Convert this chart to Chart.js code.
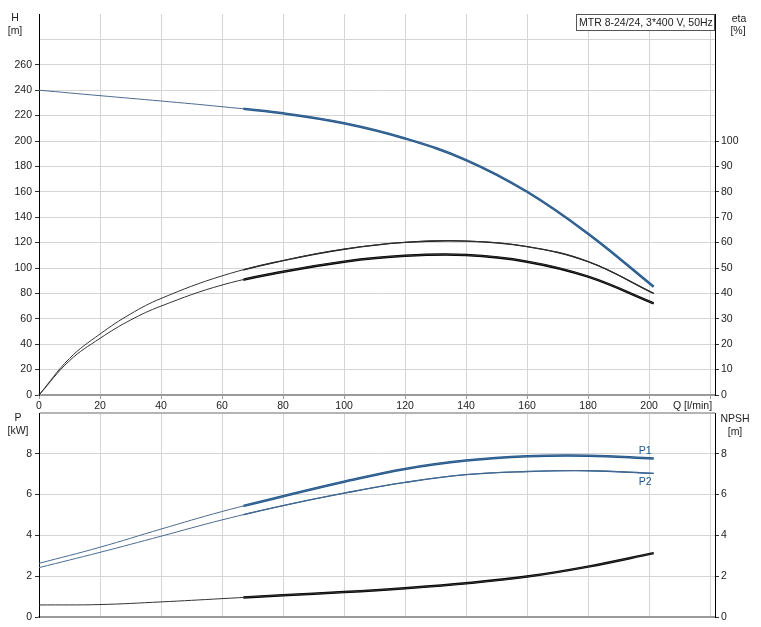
<!DOCTYPE html>
<html><head><meta charset="utf-8">
<script src="https://cdn.jsdelivr.net/npm/chart.js@4.4.1/dist/chart.umd.min.js"></script>
<style>
html,body{margin:0;padding:0;background:#fff;}
#wrap{position:relative;width:761px;height:627px;overflow:hidden;background:#fff;}
canvas{position:absolute;left:0;}
#c1{top:0;} #c2{top:412px;}
</style></head><body>
<div id="wrap"><canvas id="c1" width="761" height="412"></canvas><canvas id="c2" width="761" height="215"></canvas></div>
<script>
// ---- data ----
const title = 'MTR 8-24/24, 3*400 V, 50Hz';
const qTickValues = [0,20,40,60,80,100,120,140,160,180,200,220];
const hTickValues = [0,20,40,60,80,100,120,140,160,180,200,220,240,260];
const etaTickValues = [0,10,20,30,40,50,60,70,80,90,100];
const pTickValues = [0,2,4,6,8];
const qStartThick = 67;   // start of the bold (operating) part of each curve
const qMax = 221.6;

const qMain = [0,20,40,60,80,100,120,140,160,180,201.5];
const head  = [240,235.7,231.5,227,221.8,214,202,185,160,127,85.3];
const p1    = [2.63,3.42,4.31,5.17,5.92,6.63,7.26,7.67,7.88,7.91,7.77];
const p2    = [2.42,3.17,3.96,4.76,5.46,6.07,6.6,6.98,7.13,7.17,7.04];
const npsh  = [0.59,0.61,0.74,0.9,1.07,1.22,1.41,1.65,1.98,2.47,3.13];

const qEta  = [0,10,20,30,40,60,80,100,120,140,160,180,201.5];
const etaPump  = [0,14.4,24,31.9,38,46.9,52.9,57.4,60.1,60.6,58.4,52.5,40];
const etaTotal = [0,13.5,22.3,29.5,35,43.3,48.5,52.5,54.8,55.1,52.5,46.6,36.1];

// ---- helpers ----
const PLOT_W = 676;
const clipThick = -(qStartThick / qMax * PLOT_W);
const pts = (xs, ys) => xs.map((x,i)=>({x:x,y:ys[i]}));
const BLUE='#1b5790', BLUE_THIN='#4a6b90', BLACK='#000', GRID='#d4d4d4';
const FONT = "'Liberation Sans', Arial, sans-serif";
const FSIZE = 10.5;
Chart.defaults.font.family = FONT;
Chart.defaults.font.size = FSIZE;
Chart.defaults.color = '#222';

function ds(data, color, width, axis, bold){
  const d = {data:data, borderColor:color, borderWidth:width, pointRadius:0, fill:false,
          showLine:true, tension:0.4, yAxisID:axis, xAxisID:'x'};
  if (bold) d.clip = {left:clipThick, top:0, right:0, bottom:0};
  return d;
}
function fixW(w){ return s=>{ s.width=w; s.paddingTop=0; s.paddingBottom=0; }; }
function fixH(h){ return s=>{ s.height=h; s.paddingLeft=0; s.paddingRight=0; }; }
function setTicks(vals){ return s=>{ s.ticks = vals.map(v=>({value:v})); }; }

const xScale = (showLabels, h) => ({
  type:'linear', min:0, max:qMax,
  afterBuildTicks:setTicks(qTickValues),
  afterFit:fixH(h),
  border:{color:'#9a9a9a', width:2},
  grid:{color:GRID, lineWidth:1, drawTicks:showLabels, tickLength:4, tickColor:'#999'},
  ticks:{display:showLabels, padding:1, maxRotation:0, autoSkip:false,
         callback:v=> v>200 ? '' : String(v)}
});

const textPlugin = (items, boxTitle) => ({
  id:'texts',
  afterDraw(chart){
    const c = chart.ctx;
    c.save();
    c.font = FSIZE + "px " + FONT;
    c.textBaseline = 'middle';
    items.forEach(t=>{
      c.fillStyle = t.color || '#222';
      c.textAlign = t.align || 'center';
      let x = t.x, y = t.y;
      if (t.at) { const p = t.at(chart); x = p.x; y = p.y; }
      c.fillText(t.text, x, y);
    });
    if (boxTitle) {
      c.fillStyle='#fff'; c.strokeStyle='#555'; c.lineWidth=1;
      c.fillRect(576.5,14.5,138,16); c.strokeRect(576.5,14.5,138,16);
      c.fillStyle='#222'; c.textAlign='left';
      c.fillText(boxTitle, 579, 23);
    }
    c.restore();
  }
});

// ---- top chart: H and eta ----
new Chart(document.getElementById('c1'), {
  type:'line',
  data:{datasets:[
    ds(pts(qEta, etaPump), '#333', 1, 'yEta'),
    ds(pts(qEta, etaPump), '#111', 1.4, 'yEta', true),
    ds(pts(qEta, etaTotal), '#333', 1, 'yEta'),
    ds(pts(qEta, etaTotal), BLACK, 2.5, 'yEta', true),
    ds(pts(qMain, head), BLUE_THIN, 1, 'yH'),
    ds(pts(qMain, head), BLUE, 2.5, 'yH', true)
  ]},
  options:{
    responsive:false, devicePixelRatio:1, animation:false,
    layout:{padding:{top:14,left:0,right:0,bottom:0}},
    plugins:{legend:{display:false}, tooltip:{enabled:false}},
    scales:{
      x:xScale(true, 17),
      yH:{type:'linear', position:'left', min:0, max:300,
        afterBuildTicks:setTicks([...hTickValues,280,300]),
        afterFit:fixW(39),
        border:{color:'#000', width:1},
        grid:{color:c=> c.tick && c.tick.value>280 ? 'rgba(0,0,0,0)' : GRID, lineWidth:1,
              tickLength:4, tickColor:c=> c.tick && c.tick.value>260 ? 'rgba(0,0,0,0)' : '#333'},
        ticks:{padding:3, autoSkip:false, callback:v=> v>260 ? '' : String(v)}},
      yEta:{type:'linear', position:'right', min:0, max:150,
        afterBuildTicks:setTicks(etaTickValues),
        afterFit:fixW(46),
        border:{color:'#000', width:1},
        grid:{drawOnChartArea:false, tickLength:4, tickColor:'#333'},
        ticks:{padding:2, autoSkip:false, callback:v=>String(v)}}
    }
  },
  plugins:[textPlugin([
    {text:'H', x:15, y:18}, {text:'[m]', x:15, y:31},
    {text:'eta', x:739, y:19}, {text:'[%]', x:738, y:31},
    {text:'Q [l/min]', x:673, y:406, align:'left'}
  ], title)]
});

// ---- bottom chart: P1, P2, NPSH ----
new Chart(document.getElementById('c2'), {
  type:'line',
  data:{datasets:[
    ds(pts(qMain, p2), BLUE_THIN, 1, 'yP'),
    ds(pts(qMain, p2), BLUE, 1.4, 'yP', true),
    ds(pts(qMain, p1), BLUE_THIN, 1, 'yP'),
    ds(pts(qMain, p1), BLUE, 2.5, 'yP', true),
    ds(pts(qMain, npsh), '#333', 1, 'yN'),
    ds(pts(qMain, npsh), BLACK, 2.5, 'yN', true)
  ]},
  options:{
    responsive:false, devicePixelRatio:1, animation:false,
    layout:{padding:{top:1,left:0,right:0,bottom:0}},
    plugins:{legend:{display:false}, tooltip:{enabled:false}},
    scales:{
      x:xScale(false, 10),
      yP:{type:'linear', position:'left', min:0, max:10,
        afterBuildTicks:setTicks([...pTickValues,10]),
        afterFit:fixW(39),
        border:{color:'#000', width:1},
        grid:{color:c=> c.tick && c.tick.value>=10 ? '#b4b4b4' : GRID,
              lineWidth:c=> c.tick && c.tick.value>=10 ? 2 : 1,
              tickLength:4, tickColor:c=> c.tick && c.tick.value>8 ? 'rgba(0,0,0,0)' : '#333'},
        ticks:{padding:3, autoSkip:false, callback:v=> v>8 ? '' : String(v)}},
      yN:{type:'linear', position:'right', min:0, max:10,
        afterBuildTicks:setTicks(pTickValues),
        afterFit:fixW(46),
        border:{color:'#000', width:1},
        grid:{drawOnChartArea:false, tickLength:4, tickColor:'#333'},
        ticks:{padding:2, autoSkip:false, callback:v=>String(v)}}
    }
  },
  plugins:[textPlugin([
    {text:'P', x:18, y:6}, {text:'[kW]', x:18, y:19},
    {text:'NPSH', x:735, y:7}, {text:'[m]', x:735, y:20},
    {text:'P1', color:BLUE, align:'right', at:ch=>({x:ch.scales.x.getPixelForValue(qMain[qMain.length-1])-2, y:ch.scales.yP.getPixelForValue(p1[p1.length-1])-7})},
    {text:'P2', color:BLUE, align:'right', at:ch=>({x:ch.scales.x.getPixelForValue(qMain[qMain.length-1])-2, y:ch.scales.yP.getPixelForValue(p2[p2.length-1])+9})}
  ], null)]
});
</script>
</body></html>
